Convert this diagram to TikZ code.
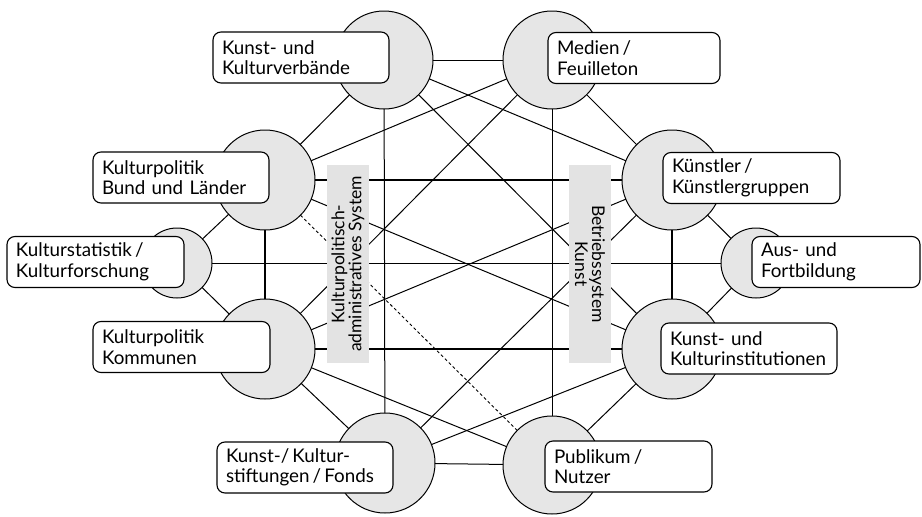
\documentclass[tikz,border=0pt]{standalone}
\usepackage{fontspec}
\setmainfont{Lato}
\definecolor{circfill}{HTML}{E6E6E6}
\definecolor{barfill}{HTML}{E3E3E3}
\begin{document}
\begin{tikzpicture}[x=1pt,y=-1pt,
  circ/.style={circle,draw=black,line width=1pt,fill=circfill,inner sep=0pt,outer sep=0pt},
  big/.style={circ,minimum size=98pt},
  small/.style={circ,minimum size=70pt},
  lbl/.style={draw=black,line width=1.1pt,fill=white,rounded corners=8pt,align=left,
    inner xsep=9pt,inner ysep=0pt,minimum height=51pt,
    font=\fontsize{18.8}{20.5}\selectfont},
  bar/.style={fill=barfill,minimum width=198pt,minimum height=42pt,inner sep=0pt,
    align=center,font=\fontsize{17.5}{17}\selectfont},
  thin/.style={line width=1pt},
  thick/.style={line width=2pt},
  dsh/.style={line width=0.9pt,dash pattern=on 3pt off 2.5pt}]
\useasboundingbox (0,0) rectangle (922,517);
% circles
\node[big] (V) at (384,60) {};
\node[big] (M) at (552,60) {};
\node[big,minimum size=100pt] (B) at (265,180) {};
\node[small] (S) at (177,263) {};
\node[big,minimum size=100pt] (K) at (265,349) {};
\node[big,minimum size=100pt] (Ku) at (672,180) {};
\node[small] (A) at (756,263) {};
\node[big,minimum size=100pt] (I) at (672,349) {};
\node[big,minimum size=100pt] (St) at (385,463) {};
\node[big] (P) at (552,465) {};
% thin connectors
\foreach \a/\b in {V/M,V/B,V/Ku,V/I,V/St,M/B,M/K,M/Ku,M/P,B/I,B/S,S/A,S/K,K/Ku,K/St,K/P,Ku/A,Ku/St,A/I,I/P,I/St,St/P}
  \draw[thin] (\a) -- (\b);
% thick connectors
\foreach \a/\b in {B/Ku,B/K,K/I,Ku/I}
  \draw[thick] (\a) -- (\b);
% dashed connector
\draw[dsh] (B) -- (P);
% grey bars
\node[bar,rotate=90] (Lbar) at (348,264) {Kulturpolitisch-\\administratives System};
\node[bar,rotate=-90] (Rbar) at (590,264) {Betriebssystem\\Kunst};
% labels
\node[lbl,text width=158pt] (Vt) at (301,57.5) {Kunst- und\\Kulturverbände};
\node[lbl,text width=154pt] (Mt) at (634,58) {Medien\,/\\Feuilleton};
\node[lbl,text width=158pt] (Bt) at (181,177.5) {Kulturpolitik\\Bund und Länder};
\node[lbl,text width=159pt] (St_) at (95.5,262) {Kulturstatistik\,/\\Kulturforschung};
\node[lbl,text width=159pt] (Kt) at (181.5,347) {Kulturpolitik\\Kommunen};
\node[lbl,text width=159pt] (Kut) at (751.5,178) {Künstler\,/\\Künstlergruppen};
\node[lbl,text width=150pt] (At) at (836,262) {Aus- und\\Fortbildung};
\node[lbl,text width=158pt] (It) at (749,348.5) {Kunst- und\\Kulturinstitutionen};
\node[lbl,text width=158pt] (Stt) at (305,467.5) {Kunst-/\,Kultur-\\stiftungen\,/\,Fonds};
\node[lbl,text width=149pt] (Pt) at (628.5,466.5) {Publikum\,/\\Nutzer};
\end{tikzpicture}
\end{document}
